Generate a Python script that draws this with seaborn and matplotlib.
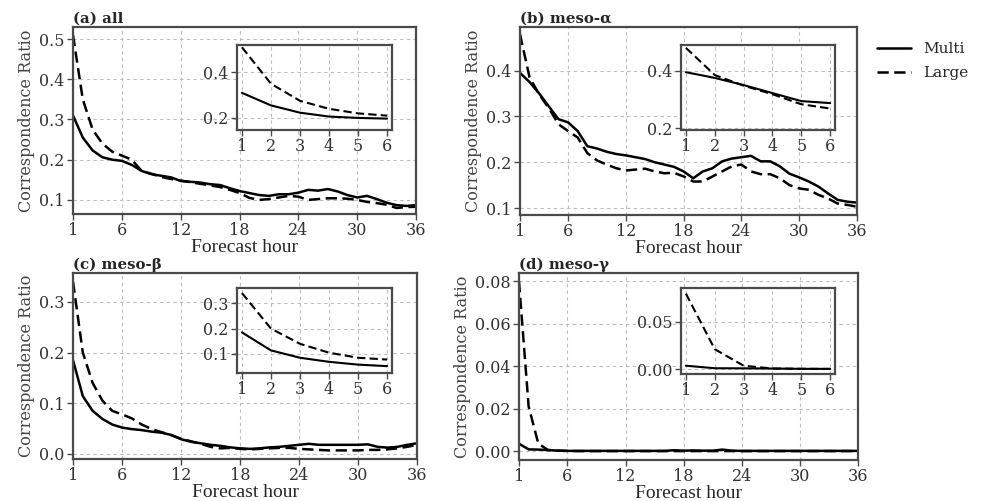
import matplotlib
matplotlib.use('Agg')
import matplotlib.pyplot as plt
import pandas as pd
import seaborn as sns
from matplotlib.ticker import FormatStrFormatter
from matplotlib.lines import Line2D

# Data
hours = list(range(1, 37))
models = ['Multi', 'Large']

all_multi = [0.310, 0.255, 0.223, 0.206, 0.200, 0.197, 0.187, 0.172, 0.164, 0.160, 0.156, 0.147,
             0.145, 0.143, 0.139, 0.137, 0.129, 0.122, 0.117, 0.112, 0.110, 0.114, 0.114, 0.118,
             0.125, 0.123, 0.127, 0.121, 0.112, 0.106, 0.110, 0.102, 0.093, 0.087, 0.085, 0.087]
all_large = [0.510, 0.350, 0.275, 0.240, 0.220, 0.210, 0.200, 0.172, 0.165, 0.157, 0.152, 0.148,
             0.144, 0.140, 0.136, 0.132, 0.125, 0.117, 0.105, 0.100, 0.102, 0.106, 0.110, 0.108,
             0.100, 0.102, 0.104, 0.104, 0.103, 0.100, 0.095, 0.092, 0.088, 0.080, 0.082, 0.083]

alpha_multi = [0.395, 0.375, 0.350, 0.322, 0.294, 0.287, 0.268, 0.235, 0.230, 0.223, 0.218, 0.215,
               0.211, 0.207, 0.200, 0.195, 0.190, 0.180, 0.165, 0.180, 0.187, 0.202, 0.208, 0.211,
               0.214, 0.202, 0.202, 0.191, 0.175, 0.167, 0.158, 0.147, 0.132, 0.118, 0.114, 0.112]
alpha_large = [0.480, 0.385, 0.348, 0.318, 0.283, 0.268, 0.254, 0.220, 0.204, 0.195, 0.187, 0.182,
               0.184, 0.186, 0.180, 0.176, 0.177, 0.169, 0.158, 0.158, 0.169, 0.180, 0.191, 0.195,
               0.180, 0.174, 0.174, 0.165, 0.150, 0.143, 0.140, 0.129, 0.121, 0.110, 0.107, 0.103]

beta_multi = [0.185, 0.114, 0.085, 0.069, 0.058, 0.052, 0.049, 0.047, 0.044, 0.042, 0.0375, 0.029,
              0.024, 0.021, 0.018, 0.016, 0.013, 0.011, 0.010, 0.011, 0.013, 0.014, 0.016, 0.018,
              0.020, 0.018, 0.018, 0.018, 0.018, 0.018, 0.019, 0.014, 0.0125, 0.014, 0.018, 0.021]
beta_large = [0.340, 0.200, 0.140, 0.105, 0.085, 0.078, 0.070, 0.058, 0.049, 0.043, 0.037, 0.030,
              0.025, 0.020, 0.014, 0.011, 0.012, 0.010, 0.009, 0.010, 0.011, 0.012, 0.012, 0.010,
              0.009, 0.008, 0.007, 0.007, 0.007, 0.007, 0.008, 0.008, 0.009, 0.011, 0.014, 0.018]

gamma_multi = [0.0035, 0.0008, 0.0007, 0.0005, 0.0002, 0.0001, 0.0001, 0.0001, 0.0001, 0.0001, 0.0001, 0.0001,
               0.0001, 0.0001, 0.0001, 0.0001, 0.0004, 0.0002, 0.0003, 0.0002, 0.0002, 0.0007, 0.0002, 0.0001,
               0.0001, 0.0001, 0.0001, 0.0001, 0.0001, 0.0001, 0.0001, 0.0001, 0.0001, 0.0001, 0.0001, 0.0001]
gamma_large = [0.080, 0.021, 0.0035, 0.0005, 0.0002, 0.0001, 0.0, 0.0, 0.0, 0.0, 0.0, 0.0,
               0.0, 0.0, 0.0, 0.0, 0.0, 0.0, 0.0, 0.0, 0.0, 0.0, 0.0, 0.0,
               0.0, 0.0, 0.0, 0.0, 0.0, 0.0, 0.0, 0.0, 0.0, 0.0, 0.0, 0.0]

titles = ['(a) all', '(b) meso-α', '(c) meso-β', '(d) meso-γ']
main_ticks = [1, 6, 12, 18, 24, 30, 36]
inset_ticks = [1, 2, 3, 4, 5, 6]

sns.set_style('white')
plt.rcParams['font.family'] = ['DejaVu Serif']

edge = '#4a4a4a'
grid_kw = dict(color='#bdbdbd', linestyle=(0, (3, 3)), linewidth=0.8)


def make_df(multi, large, n=36):
    return pd.DataFrame({
        'hour': hours[:n] * 2,
        'ratio': multi[:n] + large[:n],
        'model': ['Multi'] * n + ['Large'] * n,
    })


def style_axes(ax, xticks, yticks, fmt, size):
    ax.set_xticks(xticks)
    ax.set_yticks(yticks)
    ax.yaxis.set_major_formatter(FormatStrFormatter(fmt))
    ax.grid(True, **grid_kw)
    ax.set_axisbelow(True)
    for s in ax.spines.values():
        s.set_color(edge)
        s.set_linewidth(1.6)
    ax.tick_params(axis='both', length=4, width=1, color=edge, labelsize=size,
                   labelcolor='#333333', pad=2, direction='out', bottom=True, left=True)
    ax.set_xlabel('')
    ax.set_ylabel('')


panels = [
    dict(multi=all_multi, large=all_large,
         pos=[0.0744, 0.5729, 0.3497, 0.3733], ylim=(0.065, 0.53),
         yticks=[0.1, 0.2, 0.3, 0.4, 0.5], fmt='%.1f',
         ipos=[0.2416, 0.7405, 0.158, 0.1697], iylim=(0.147, 0.52), iyticks=[0.2, 0.4], ifmt='%.1f'),
    dict(multi=alpha_multi, large=alpha_large,
         pos=[0.5300, 0.5709, 0.3435, 0.3752], ylim=(0.085, 0.495),
         yticks=[0.1, 0.2, 0.3, 0.4], fmt='%.1f',
         ipos=[0.6942, 0.7405, 0.157, 0.1697], iylim=(0.193, 0.49), iyticks=[0.2, 0.4], ifmt='%.1f'),
    dict(multi=beta_multi, large=beta_large,
         pos=[0.0744, 0.0838, 0.3507, 0.3713], ylim=(-0.01, 0.357),
         yticks=[0.0, 0.1, 0.2, 0.3], fmt='%.1f',
         ipos=[0.2416, 0.2555, 0.158, 0.1697], iylim=(0.025, 0.36), iyticks=[0.1, 0.2, 0.3], ifmt='%.1f'),
    dict(multi=gamma_multi, large=gamma_large,
         pos=[0.5290, 0.0818, 0.3456, 0.3733], ylim=(-0.0042, 0.0838),
         yticks=[0.0, 0.02, 0.04, 0.06, 0.08], fmt='%.2f',
         ipos=[0.6942, 0.2535, 0.157, 0.1717], iylim=(-0.0053, 0.086), iyticks=[0.0, 0.05], ifmt='%.2f'),
]

dashes = {'Multi': '', 'Large': (4.5, 2.2)}

fig = plt.figure(figsize=(9.81, 5.01), dpi=100)

for p, title in zip(panels, titles):
    ax = fig.add_axes(p['pos'])
    sns.lineplot(data=make_df(p['multi'], p['large']), x='hour', y='ratio', style='model',
                 style_order=models, dashes=dashes, color='black', linewidth=1.8,
                 legend=False, ax=ax)
    ax.set_xlim(1, 36)
    ax.set_ylim(*p['ylim'])
    style_axes(ax, main_ticks, p['yticks'], p['fmt'], 11.5)
    ax.set_title(title, loc='left', fontsize=10.8, fontweight='bold', pad=3)
    ax.set_ylabel('Correspondence Ratio', fontsize=11.5, color='#444444', labelpad=3)
    ax.set_xlabel('Forecast hour', fontsize=14, family='Liberation Serif', labelpad=0)

    inset = fig.add_axes(p['ipos'])
    sns.lineplot(data=make_df(p['multi'], p['large'], n=6), x='hour', y='ratio', style='model',
                 style_order=models, dashes={'Multi': '', 'Large': (4, 2)}, color='black',
                 linewidth=1.5, legend=False, ax=inset)
    inset.set_xlim(0.83, 6.17)
    inset.set_ylim(*p['iylim'])
    style_axes(inset, inset_ticks, p['iyticks'], p['ifmt'], 11.5)

handles = [Line2D([], [], color='black', lw=1.8, linestyle='-'),
           Line2D([], [], color='black', lw=1.8, linestyle=(0, (4.5, 2.2)))]
fig.legend(handles, models, loc='upper left', bbox_to_anchor=(0.888, 0.928),
           frameon=False, fontsize=11, handlelength=2.2, labelspacing=0.65, borderaxespad=0)

fig.savefig('out.png', dpi=100)
